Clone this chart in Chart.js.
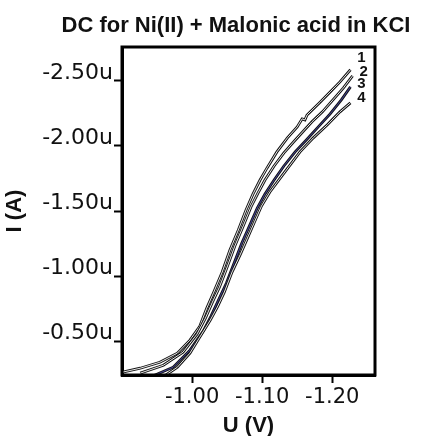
<!DOCTYPE html>
<html>
<head>
<meta charset="utf-8">
<script src="https://cdn.jsdelivr.net/npm/chart.js@4.4.0/dist/chart.umd.min.js"></script>
<style>
  body { margin: 0; background: #fff; }
</style>
</head>
<body>
<canvas id="dc" width="425" height="436"></canvas>
<script>
// DC polarogram curves, U in volts, I in microamps
const u1 = [-0.901, -0.926, -0.954, -0.979, -0.997, -1.011, -1.021, -1.031, -1.043, -1.054, -1.066, -1.077, -1.087, -1.097, -1.107, -1.121, -1.136, -1.150, -1.157, -1.161, -1.164, -1.183, -1.197, -1.211, -1.226];
const i1 = [-0.262, -0.292, -0.338, -0.408, -0.508, -0.615, -0.754, -0.877, -1.031, -1.200, -1.354, -1.508, -1.631, -1.738, -1.831, -1.954, -2.062, -2.146, -2.208, -2.200, -2.238, -2.338, -2.415, -2.492, -2.585];

const u2 = [-0.926, -0.959, -0.987, -1.007, -1.019, -1.029, -1.039, -1.050, -1.061, -1.073, -1.084, -1.094, -1.104, -1.117, -1.131, -1.146, -1.159, -1.171, -1.186, -1.201, -1.216, -1.229];
const i2 = [-0.254, -0.315, -0.415, -0.554, -0.677, -0.800, -0.915, -1.069, -1.231, -1.385, -1.531, -1.638, -1.738, -1.846, -1.946, -2.038, -2.115, -2.185, -2.262, -2.354, -2.446, -2.538];

const u3 = [-0.940, -0.973, -0.997, -1.016, -1.027, -1.037, -1.049, -1.060, -1.071, -1.083, -1.093, -1.104, -1.117, -1.131, -1.147, -1.163, -1.180, -1.197, -1.213, -1.226];
const i3 = [-0.223, -0.300, -0.431, -0.577, -0.692, -0.808, -0.946, -1.100, -1.254, -1.400, -1.523, -1.631, -1.738, -1.846, -1.954, -2.046, -2.146, -2.246, -2.354, -2.454];

const u4 = [-0.954, -0.979, -0.997, -1.011, -1.026, -1.036, -1.046, -1.057, -1.069, -1.079, -1.089, -1.099, -1.111, -1.126, -1.140, -1.154, -1.173, -1.193, -1.211, -1.226];
const i4 = [-0.208, -0.300, -0.408, -0.531, -0.662, -0.762, -0.877, -1.031, -1.169, -1.292, -1.415, -1.538, -1.646, -1.754, -1.854, -1.954, -2.062, -2.162, -2.262, -2.331];

const curveNames = ["1", "2", "3", "4"];
const xTicks = [-1.00, -1.10, -1.20];
const yTicks = [-2.50, -2.00, -1.50, -1.00, -0.50];

const series = [[u1, i1], [u2, i2], [u3, i3], [u4, i4]];
const innerColors = ["#ffffff", "#ffffff", "#4646a6", "#ffffff"];

function pts(u, i) {
    return u.map((v, k) => ({ x: v, y: i[k] }));
}

// each curve: dark outline then light core, one curve after the other
const datasets = [];
series.forEach((s, k) => {
    datasets.push({
        label: "curve " + curveNames[k],
        data: pts(s[0], s[1]),
        borderColor: "#151515",
        borderWidth: 2.8,
        pointRadius: 0,
        tension: 0,
        order: 8 - 2 * k
    });
    datasets.push({
        label: "core " + curveNames[k],
        data: pts(s[0], s[1]),
        borderColor: innerColors[k],
        borderWidth: 0.9,
        pointRadius: 0,
        tension: 0,
        order: 7 - 2 * k
    });
});

// frame, title and curve numbers
const extras = {
    id: "extras",
    afterDraw(chart) {
        const ctx = chart.ctx;
        const a = chart.chartArea;
        ctx.save();
        ctx.strokeStyle = "#000";
        ctx.lineWidth = 3;
        ctx.strokeRect(a.left, a.top, a.right - a.left, a.bottom - a.top);

        ctx.fillStyle = "#111";
        ctx.font = "bold 22px 'Liberation Sans', Arial, sans-serif";
        ctx.textAlign = "center";
        ctx.textBaseline = "alphabetic";
        ctx.fillText("DC for Ni(II) + Malonic acid in KCI", 236, 32);

        const dy = [-12, -4, -3, -5];
        ctx.font = "bold 15px 'Liberation Sans', Arial, sans-serif";
        ctx.textBaseline = "middle";
        curveNames.forEach((name, k) => {
            const meta = chart.getDatasetMeta(k * 2);
            const last = meta.data[meta.data.length - 1];
            ctx.fillText(name, last.x + 11, last.y + dy[k]);
        });
        ctx.restore();
    }
};

new Chart("dc", {
    type: "line",
    data: { datasets: datasets },
    plugins: [extras],
    options: {
        responsive: false,
        animation: false,
        devicePixelRatio: 1,
        layout: { padding: { top: 47, right: 50, left: 0, bottom: 0 } },
        plugins: {
            legend: { display: false },
            tooltip: { enabled: false }
        },
        scales: {
            x: {
                type: "linear",
                reverse: true,
                min: -1.261,
                max: -0.90,
                afterFit: (s) => { s.height = 61; },
                afterBuildTicks: (s) => { s.ticks = xTicks.map((v) => ({ value: v })); },
                grid: { drawOnChartArea: false, drawTicks: true, tickLength: 8, tickWidth: 2, tickColor: "#000" },
                border: { display: true, color: "#000", width: 3 },
                ticks: {
                    color: "#111",
                    padding: 2,
                    font: { family: "'DejaVu Sans'", size: 21 },
                    callback: (v) => v.toFixed(2)
                },
                title: {
                    display: true,
                    text: "U (V)",
                    color: "#111",
                    padding: { top: 0, bottom: 0 },
                    font: { family: "'Liberation Sans'", size: 22, weight: "bold", lineHeight: 0.9 }
                }
            },
            y: {
                type: "linear",
                reverse: true,
                min: -2.76,
                max: -0.24,
                afterFit: (s) => { s.width = 122; },
                afterBuildTicks: (s) => { s.ticks = yTicks.map((v) => ({ value: v })); },
                grid: { drawOnChartArea: false, drawTicks: true, tickLength: 8, tickWidth: 2, tickColor: "#000" },
                border: { display: true, color: "#000", width: 3 },
                ticks: {
                    color: "#111",
                    padding: 1,
                    labelOffset: -8,
                    font: { family: "'DejaVu Sans'", size: 22 },
                    callback: (v) => v.toFixed(2) + "u"
                },
                title: {
                    display: true,
                    text: "I (A)",
                    color: "#111",
                    padding: { top: 4, bottom: 0 },
                    font: { family: "'Liberation Sans'", size: 22, weight: "bold", lineHeight: 1 }
                }
            }
        }
    }
});
</script>
</body>
</html>
